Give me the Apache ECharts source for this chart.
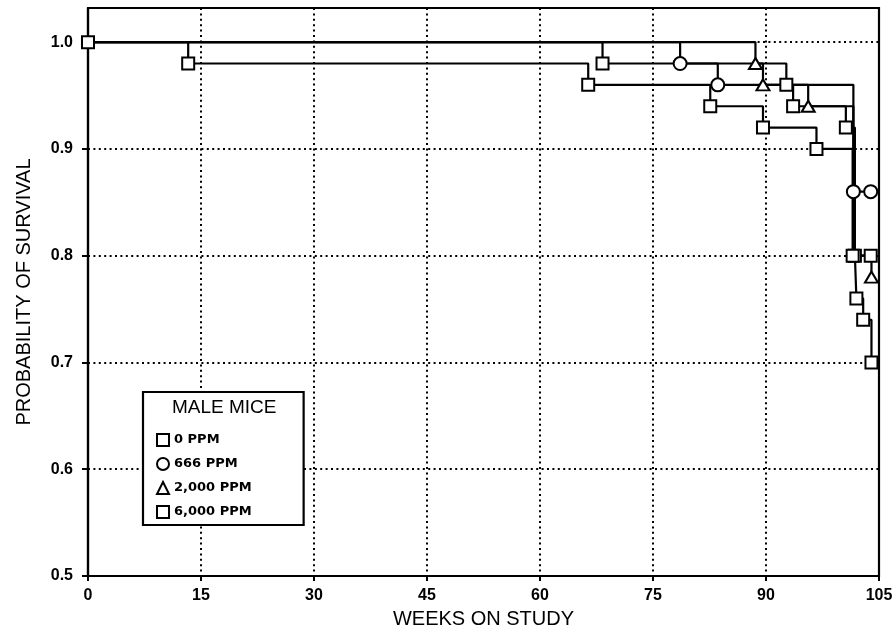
<!DOCTYPE html>
<html>
<head>
<meta charset="utf-8">
<script src="https://cdn.jsdelivr.net/npm/echarts@6/dist/echarts.min.js"></script>
<style>
  html, body { margin: 0; padding: 0; background: #fff; }
  #chart { width: 896px; height: 634px; }
</style>
</head>
<body>
<div id="chart"></div>
<script>
// weeks of each death and survival after it
const weeks0 = [0, 68.3, 92.7, 93.6, 100.6, 101.8, 102.0, 102.9, 104.0]
const surv0 = [1.0, 0.98, 0.96, 0.94, 0.92, 0.80, 0.76, 0.74, 0.70]

const weeks666 = [0, 78.6, 83.6, 101.6, 103.9]
const surv666 = [1.0, 0.98, 0.96, 0.86, 0.86]

const weeks2000 = [0, 88.6, 89.6, 95.6, 101.6, 104.0]
const surv2000 = [1.0, 0.98, 0.96, 0.94, 0.80, 0.78]

const weeks6000 = [0, 13.3, 66.4, 82.6, 89.6, 96.7, 101.5, 103.9]
const surv6000 = [1.0, 0.98, 0.96, 0.94, 0.92, 0.90, 0.80, 0.80]

const names = ["0 PPM", "666 PPM", "2,000 PPM", "6,000 PPM"]
const xTicks = [0, 15, 30, 45, 60, 75, 90, 105]
const yTicks = [0.5, 0.6, 0.7, 0.8, 0.9, 1.0]

// points whose marker is not drawn (hidden under other marks)
const hidden = [[], [0], [0, 4], [0]]

const chart = echarts.init(document.getElementById("chart"))

function curve(i, weeks, surv, symbol, size){
    return {
        name: names[i],
        type: "line",
        step: "end",
        symbol: symbol,
        symbolSize: size,
        showAllSymbol: true,
        data: weeks.map((w, k) => {
            const item = { value: [w, surv[k]] }
            if (hidden[i].indexOf(k) >= 0) item.symbol = "none"
            return item
        }),
        lineStyle: { color: "#000", width: 2.2 },
        itemStyle: { color: "#fff", borderColor: "#000", borderWidth: 2 },
        emphasis: { disabled: true },
        animation: false
    }
}

const tickFont = { fontFamily: "Liberation Sans", fontWeight: "bold", fontSize: 16, color: "#000" }
const nameFont = { fontFamily: "Liberation Sans", fontSize: 20, color: "#000" }
const dots = { color: "#000", width: 2, type: [2, 3.4] }

const option = {
    backgroundColor: "#fff",
    animation: false,
    grid: {
        left: 88, right: 17, top: 8, bottom: 57,
        show: true, borderColor: "#000", borderWidth: 2.2
    },
    xAxis: {
        type: "value",
        min: 0, max: 105, interval: 15,
        name: "WEEKS ON STUDY",
        nameLocation: "middle",
        nameGap: 33,
        nameTextStyle: nameFont,
        axisLine: { lineStyle: { color: "#000", width: 2.2 } },
        axisTick: { length: 5, lineStyle: { color: "#000", width: 2 } },
        axisLabel: Object.assign({ margin: 12, customValues: xTicks }, tickFont),
        splitLine: { show: true, lineStyle: dots }
    },
    yAxis: {
        type: "value",
        min: 0.5, max: 1.032, interval: 0.1,
        name: "PROBABILITY OF SURVIVAL",
        nameLocation: "middle",
        nameGap: 54,
        nameTextStyle: nameFont,
        axisLine: { show: true, lineStyle: { color: "#000", width: 2.2 } },
        axisTick: { show: true, length: 6, customValues: yTicks, lineStyle: { color: "#000", width: 2 } },
        axisLabel: Object.assign({
            margin: 15,
            customValues: yTicks,
            formatter: v => v.toFixed(1)
        }, tickFont),
        splitLine: { show: true, lineStyle: dots }
    },
    legend: {
        orient: "vertical",
        left: 143, top: 392,
        padding: [41, 52, 6, 13],
        itemWidth: 12, itemHeight: 12, itemGap: 10,
        backgroundColor: "#fff",
        borderColor: "#000", borderWidth: 2.2,
        selectedMode: false,
        data: [
            { name: names[0], icon: "rect" },
            { name: names[1], icon: "circle" },
            { name: names[2], icon: "triangle" },
            { name: names[3], icon: "rect" }
        ],
        itemStyle: { color: "#fff", borderColor: "#000", borderWidth: 2 },
        lineStyle: { width: 0 },
        textStyle: { fontFamily: "DejaVu Sans", fontWeight: "bold", fontSize: 13, color: "#000" }
    },
    graphic: [{
        type: "text",
        left: 224 - 52, top: 398,
        z: 100,
        style: { text: "MALE MICE", font: "19px 'Liberation Sans'", fill: "#000" }
    }],
    series: [
        curve(0, weeks0, surv0, "rect", 12),
        curve(1, weeks666, surv666, "circle", 13),
        curve(2, weeks2000, surv2000, "triangle", [13, 11]),
        curve(3, weeks6000, surv6000, "rect", 12)
    ]
}

chart.setOption(option)
</script>
</body>
</html>
